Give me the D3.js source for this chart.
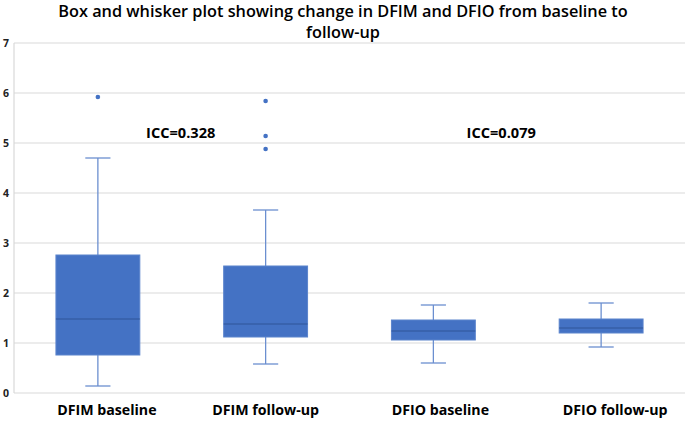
<!DOCTYPE html>
<html><head><meta charset="utf-8">
<script src="https://cdn.jsdelivr.net/npm/d3@7"></script>
<style>body{margin:0;background:#fff}svg{display:block}</style>
</head><body>
<svg id="c" width="685" height="423"></svg>
<script>
const categories = ["DFIM baseline","DFIM follow-up","DFIO baseline","DFIO follow-up"];
const whiskerLow = [0.14, 0.58, 0.60, 0.92];
const q1 = [0.76, 1.12, 1.06, 1.20];
const median = [1.48, 1.38, 1.24, 1.30];
const q3 = [2.76, 2.54, 1.46, 1.48];
const whiskerHigh = [4.70, 3.66, 1.76, 1.80];
const outliers = [[5.92], [5.84, 5.14, 4.88], [], []];
const yTicks = [0,1,2,3,4,5,6,7];
const titleLines = ["Box and whisker plot showing change in DFIM and DFIO from baseline to", "follow-up"];
const annotations = [{text:"ICC=0.328", between:[0,1], y:5.2}, {text:"ICC=0.079", between:[2,3], y:5.2}];

(function(){
const svg = d3.select("#c");
const pL = 14, pR = 685, pT = 43, pB = 393;
const x = d3.scaleBand().domain(categories).range([pL, pR]).paddingInner(0).paddingOuter(0);
const y = d3.scaleLinear().domain([0,7]).range([pB, pT]);
const font = "'Open Sans', Calibri, sans-serif";

// title
svg.append("g").selectAll("text").data(titleLines).join("text")
  .attr("x", 343).attr("y", (d,i)=>17 + i*20.5).attr("text-anchor","middle")
  .attr("font-family", font).attr("font-weight", 600).attr("font-size", 16.3).attr("fill","#000")
  .text(d=>d);

// gridlines
svg.append("g").selectAll("line").data(yTicks).join("line")
  .attr("x1", pL).attr("x2", pR).attr("y1", d=>y(d)).attr("y2", d=>y(d))
  .attr("stroke", "#d9d9d9").attr("stroke-width", 1.2);
svg.append("line").attr("x1", pL).attr("x2", pL).attr("y1", pT).attr("y2", pB)
  .attr("stroke", "#d9d9d9").attr("stroke-width", 1.2);

// y axis labels
const yAxis = d3.axisLeft(y).tickValues(yTicks).tickSize(0).tickPadding(0).tickFormat(d3.format("d"));
const ga = svg.append("g").attr("transform", `translate(${pL-5},0)`).call(yAxis);
ga.select(".domain").remove();
ga.selectAll("text").attr("font-family", font).attr("font-weight", 700).attr("font-size", 10.5).attr("fill","#222");

// x axis labels
const xAxis = d3.axisBottom(x).tickSize(0).tickPadding(0);
const gx = svg.append("g").attr("transform", `translate(0,${pB+12})`).call(xAxis);
gx.select(".domain").remove();
gx.selectAll("text").attr("font-family", font).attr("font-weight", 700).attr("font-size", 14.2).attr("fill","#000")
  .attr("dx", (d,i)=>[9,0,7,14][i]);

const boxW = x.bandwidth()*0.5;
const capW = boxW*0.3;
const col = "#4472c4";
const wcol = "#6b8fd0";
const g = svg.append("g");
categories.forEach((c,i)=>{
  const cx = x(c) + x.bandwidth()/2;
  g.append("line").attr("x1",cx).attr("x2",cx).attr("y1",y(whiskerHigh[i])).attr("y2",y(q3[i])).attr("stroke",wcol).attr("stroke-width",1.3);
  g.append("line").attr("x1",cx).attr("x2",cx).attr("y1",y(whiskerLow[i])).attr("y2",y(q1[i])).attr("stroke",wcol).attr("stroke-width",1.3);
  g.append("line").attr("x1",cx-capW/2).attr("x2",cx+capW/2).attr("y1",y(whiskerHigh[i])).attr("y2",y(whiskerHigh[i])).attr("stroke",wcol).attr("stroke-width",1.3);
  g.append("line").attr("x1",cx-capW/2).attr("x2",cx+capW/2).attr("y1",y(whiskerLow[i])).attr("y2",y(whiskerLow[i])).attr("stroke",wcol).attr("stroke-width",1.3);
  g.append("rect").attr("x",cx-boxW/2).attr("y",y(q3[i])).attr("width",boxW).attr("height",y(q1[i])-y(q3[i]))
    .attr("fill",col).attr("stroke","#5b84cc").attr("stroke-width",1);
  g.append("line").attr("x1",cx-boxW/2).attr("x2",cx+boxW/2).attr("y1",y(median[i])).attr("y2",y(median[i])).attr("stroke","#2f5597").attr("stroke-width",1.2);
  g.selectAll(null).data(outliers[i]).join("circle").attr("cx",cx).attr("cy",d=>y(d)).attr("r",2.3).attr("fill",col);
});

annotations.forEach(a=>{
  const cx = (x(categories[a.between[0]]) + x(categories[a.between[1]]) + x.bandwidth())/2;
  svg.append("text").attr("x", a.between[0]===0 ? cx-1 : cx-16).attr("y", y(a.y)+5).attr("text-anchor","middle")
    .attr("font-family", font).attr("font-weight", 700).attr("font-size", 14.6).attr("fill","#000").text(a.text);
});
})();
</script>
</body></html>
